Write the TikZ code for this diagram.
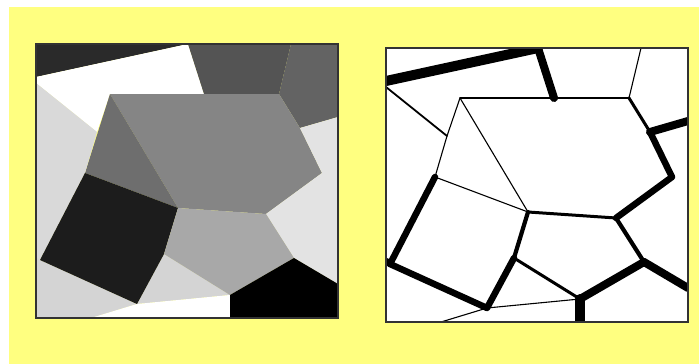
\documentclass[tikz,border=0pt]{standalone}
\usepackage{tikz}
\definecolor{paper}{RGB}{255,255,128}
\definecolor{cTL}{gray}{0.165}
\definecolor{cTM}{gray}{0.33}
\definecolor{cTR}{gray}{0.39}
\definecolor{cTri}{gray}{0.43}
\definecolor{cPent}{gray}{0.52}
\definecolor{cLow}{gray}{0.66}
\definecolor{cLeft}{gray}{0.85}
\definecolor{cBot}{gray}{0.83}
\definecolor{cRight}{gray}{0.89}
\definecolor{cSq}{gray}{0.11}
\definecolor{rim}{gray}{0.2}
\tikzset{
  hair/.style={line width=1.1pt},
  thin/.style={line width=1.8pt},
  mid/.style={line width=3pt},
  firm/.style={line width=4.2pt},
  bold/.style={line width=6.5pt},
  heavy/.style={line width=8pt},
  huge/.style={line width=10pt},
  panel/.style={draw=rim, line width=1.5pt}
}
\newcommand{\cellpoints}{%
  \coordinate (A) at (0,33);
  \coordinate (B) at (152,0);
  \coordinate (C) at (168,50);
  \coordinate (D) at (74,50);
  \coordinate (E) at (243,50);
  \coordinate (F) at (255,0);
  \coordinate (G) at (264,84);
  \coordinate (H) at (302,73);
  \coordinate (I) at (286,129);
  \coordinate (J) at (230,170);
  \coordinate (K) at (142,164);
  \coordinate (L) at (49,129);
  \coordinate (M) at (61,88);
  \coordinate (N) at (0,39);
  \coordinate (O) at (258,214);
  \coordinate (O2) at (302,240);
  \coordinate (P) at (194,251);
  \coordinate (Q) at (194,274);
  \coordinate (R) at (128,210);
  \coordinate (S) at (101,260);
  \coordinate (T) at (4,216);
  \coordinate (Tb) at (0,213);
  \coordinate (U) at (55,274);
}
\begin{document}
\begin{tikzpicture}[x=1pt,y=-1pt]
  \fill[white] (0,0) rectangle (699,364);
  \fill[paper] (9,7) rectangle (699,364);

  \begin{scope}[shift={(36,44)}]
    \cellpoints
    \fill[cTL] (0,0) -- (B) -- (A) -- cycle;
    \fill[white] (A) -- (B) -- (C) -- (D) -- (M) -- (N) -- cycle;
    \fill[cTM] (B) -- (F) -- (E) -- (C) -- cycle;
    \fill[cTR] (F) -- (302,0) -- (H) -- (G) -- (E) -- cycle;
    \fill[cPent] (D) -- (E) -- (G) -- (I) -- (J) -- (K) -- cycle;
    \fill[cTri] (D) -- (K) -- (L) -- cycle;
    \fill[cRight] (H) -- (O2) -- (O) -- (J) -- (I) -- (G) -- cycle;
    \fill[cLeft] (N) -- (M) -- (L) -- (T) -- (Tb) -- cycle;
    \fill[cBot] (Tb) -- (T) -- (S) -- (U) -- (0,274) -- cycle;
    \fill[cBot] (S) -- (R) -- (P) -- cycle;
    \fill[white] (U) -- (S) -- (P) -- (Q) -- cycle;
    \fill[cSq] (L) -- (K) -- (R) -- (S) -- (T) -- cycle;
    \fill[cLow] (K) -- (J) -- (O) -- (P) -- (R) -- cycle;
    \fill[black] (O) -- (O2) -- (302,274) -- (Q) -- (P) -- cycle;
    \draw[panel] (0,0) rectangle (302,274);
  \end{scope}

  \begin{scope}[shift={(386,48)}]
    \cellpoints
    \fill[white] (0,0) rectangle (302,274);
    \begin{scope}
      \clip (0,0) rectangle (302,274);
      \begin{scope}[line cap=round, line join=round]
        \draw[huge] (A) -- (B);
        \draw[huge] (P) -- (Q);
        \draw[heavy] (B) -- (C);
        \draw[heavy] (G) -- (H);
        \draw[heavy] (O) -- (O2);
        \draw[heavy] (O) -- (P);
        \draw[bold] (R) -- (S) -- (T) -- (L);
        \draw[bold] (G) -- (I) -- (J);
        \draw[bold] (T) -- (Tb);
        \draw[firm] (K) -- (R);
        \draw[firm] (J) -- (O);
        \draw[mid] (E) -- (G);
        \draw[mid] (J) -- (K);
        \draw[mid] (P) -- (R);
        \draw[thin] (C) -- (E);
        \draw[thin] (M) -- (N);
        \draw[thin] (D) -- (C);
        \draw[hair] (L) -- (K);
        \draw[hair] (L) -- (M) -- (D);
        \draw[hair] (P) -- (S) -- (U);
        \draw[hair] (E) -- (F);
        \draw[hair] (D) -- (K);
      \end{scope}
    \end{scope}
    \draw[panel] (0,0) rectangle (302,274);
  \end{scope}
\end{tikzpicture}
\end{document}
